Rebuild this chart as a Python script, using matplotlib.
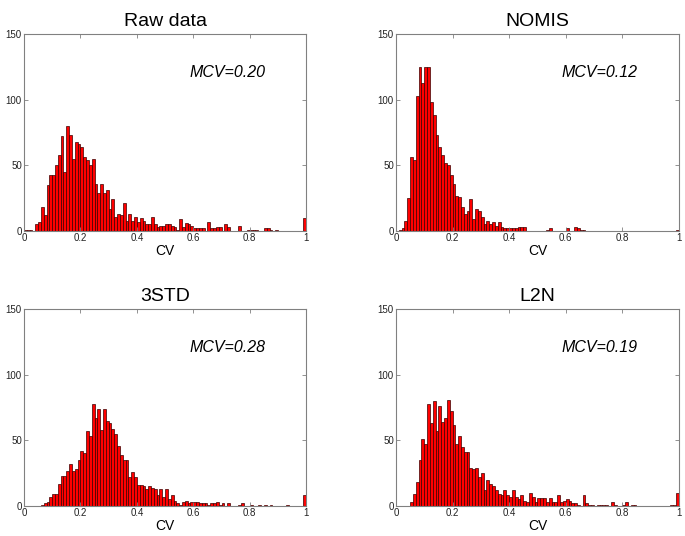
import numpy as np
import matplotlib
matplotlib.use("Agg")
import matplotlib.pyplot as plt

plt.rcParams["font.family"] = ["Liberation Sans", "DejaVu Sans"]

# histogram counts, 100 bins of width 0.01 on [0, 1]
raw_counts = [1, 1, 1, 0, 5, 7, 18, 12, 35, 43, 43, 50, 58, 72, 45, 80, 73, 55, 68, 66,
              64, 56, 54, 50, 55, 36, 29, 36, 29, 31, 17, 24, 11, 13, 12, 21, 8, 13, 8, 11,
              7, 10, 8, 5, 5, 11, 5, 3, 4, 4, 5, 5, 4, 3, 1, 9, 3, 6, 5, 4,
              2, 2, 2, 2, 0, 7, 2, 2, 3, 3, 0, 5, 3, 0, 0, 0, 4, 0, 0, 1,
              1, 1, 1, 0, 0, 2, 2, 1, 0, 1, 0, 0, 0, 0, 0, 0, 0, 0, 0, 10]
nomis_counts = [0, 1, 2, 8, 25, 56, 54, 103, 125, 113, 125, 125, 98, 88, 73, 64, 58, 52, 50, 43,
                36, 27, 26, 18, 13, 15, 24, 9, 17, 15, 11, 5, 8, 5, 7, 4, 7, 3, 2, 2,
                2, 2, 2, 3, 3, 3, 0, 0, 0, 0, 0, 0, 0, 1, 2, 0, 0, 0, 0, 0,
                2, 0, 0, 3, 2, 1, 1, 0, 0, 0, 0, 0, 0, 0, 0, 0, 0, 0, 0, 0,
                0, 0, 0, 0, 0, 0, 0, 0, 0, 0, 0, 0, 0, 0, 0, 0, 0, 0, 0, 1]
std3_counts = [0, 0, 0, 0, 0, 0, 1, 2, 3, 7, 9, 9, 17, 23, 23, 27, 32, 27, 28, 35,
               42, 40, 57, 53, 78, 67, 74, 58, 74, 65, 63, 59, 55, 46, 39, 35, 35, 22, 26, 22,
               16, 16, 15, 13, 15, 14, 13, 8, 13, 7, 13, 5, 8, 4, 2, 1, 3, 4, 2, 3,
               3, 3, 2, 2, 2, 1, 2, 2, 3, 1, 2, 0, 2, 0, 0, 0, 1, 2, 0, 0,
               1, 0, 0, 1, 0, 1, 0, 1, 0, 0, 0, 0, 0, 1, 0, 0, 0, 0, 0, 8]
l2n_counts = [0, 0, 0, 0, 0, 3, 9, 18, 35, 51, 47, 78, 63, 80, 57, 76, 64, 67, 81, 72,
              62, 47, 53, 45, 41, 41, 29, 28, 29, 22, 25, 12, 20, 17, 15, 12, 9, 8, 12, 8,
              7, 12, 7, 5, 8, 4, 3, 10, 7, 3, 6, 6, 6, 3, 6, 3, 3, 8, 3, 4,
              5, 4, 2, 2, 1, 0, 8, 2, 1, 1, 0, 1, 1, 1, 1, 0, 3, 1, 0, 0,
              1, 3, 0, 1, 1, 0, 0, 0, 0, 0, 0, 0, 0, 0, 0, 0, 0, 1, 1, 10]

titles = ["Raw data", "NOMIS", "3STD", "L2N"]
mcv_labels = ["MCV=0.20", "MCV=0.12", "MCV=0.28", "MCV=0.19"]
x_ticks = [0, 0.2, 0.4, 0.6, 0.8, 1]
x_tick_labels = ["0", "0.2", "0.4", "0.6", "0.8", "1"]
y_ticks = [0, 50, 100, 150]

bin_edges = np.linspace(0, 1, 101)[:-1]
panels = [raw_counts, nomis_counts, std3_counts, l2n_counts]

fig = plt.figure(figsize=(6.85, 5.36), dpi=100)
# axes rectangles in figure fractions (left, bottom, width, height)
rects = [
    (0.035, 0.569, 0.412, 0.3675),
    (0.578, 0.569, 0.413, 0.3675),
    (0.035, 0.056, 0.412, 0.3675),
    (0.578, 0.056, 0.413, 0.3675),
]
spine_grey = "#808080"

for counts, title, mcv, rect in zip(panels, titles, mcv_labels, rects):
    ax = fig.add_axes(rect)
    ax.bar(bin_edges, counts, width=0.01, align="edge",
           color="#ff0000", edgecolor="#3a0000", linewidth=0.5)
    ax.set_xlim(0, 1)
    ax.set_ylim(0, 150)
    ax.set_xticks(x_ticks)
    ax.set_xticklabels(x_tick_labels)
    ax.set_yticks(y_ticks)
    ax.tick_params(direction="in", top=True, right=True, length=3,
                   width=0.6, colors=spine_grey, labelcolor="#222222",
                   labelsize=7, pad=1.5)
    for sp in ax.spines.values():
        sp.set_color(spine_grey)
        sp.set_linewidth(0.8)
    ax.set_title(title, fontsize=14, pad=6)
    ax.set_xlabel("CV", fontsize=10, labelpad=1)
    ax.text(0.72, 121, mcv, fontsize=11.5, style="italic",
            ha="center", va="center")

fig.savefig("out.png", dpi=100)
